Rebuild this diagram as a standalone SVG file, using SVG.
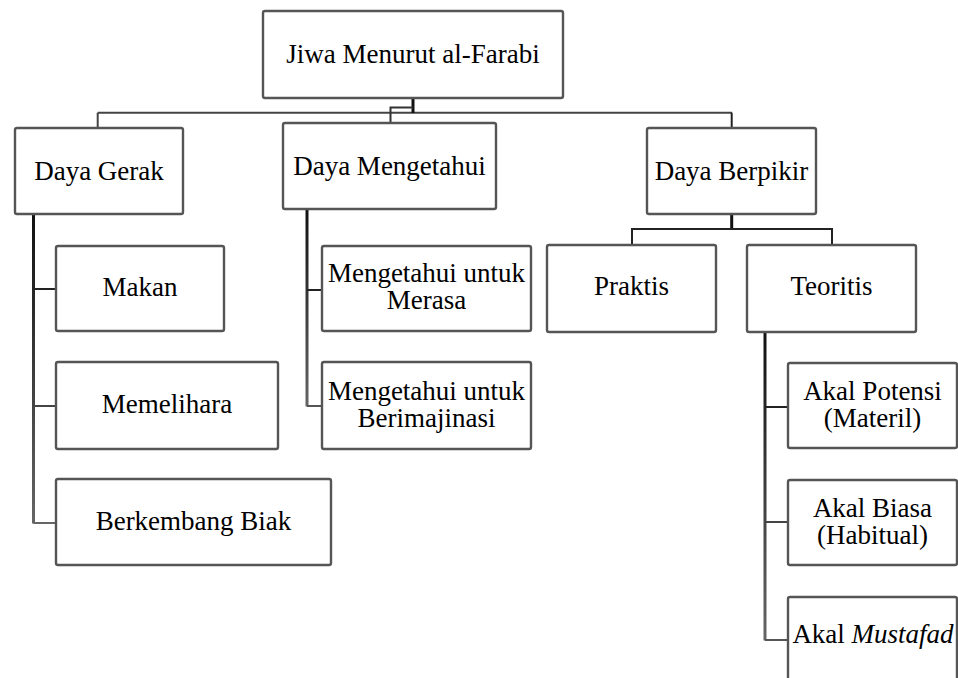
<svg xmlns="http://www.w3.org/2000/svg" width="958" height="678" viewBox="0 0 958 678">
<defs>
<linearGradient id="g1" gradientUnits="userSpaceOnUse" x1="0" y1="214" x2="0" y2="525"><stop offset="0" stop-color="#111"/><stop offset="1" stop-color="#666"/></linearGradient>
<linearGradient id="g2" gradientUnits="userSpaceOnUse" x1="0" y1="209" x2="0" y2="408"><stop offset="0" stop-color="#111"/><stop offset="1" stop-color="#666"/></linearGradient>
<linearGradient id="g3" gradientUnits="userSpaceOnUse" x1="0" y1="332" x2="0" y2="642"><stop offset="0" stop-color="#111"/><stop offset="1" stop-color="#666"/></linearGradient>
</defs>
<g id="connectors" fill="none" stroke-width="2">
<path stroke="#444" d="M97.7 112.7 H732"/>
<path stroke="#111" stroke-width="3" d="M413 98 V113"/>
<path stroke="#333" d="M413 107.5 H390.5 V123"/>
<path stroke="#444" d="M97.7 112.7 V128"/>
<path stroke="#222" d="M731.7 112.7 V128"/>
<path stroke="url(#g1)" stroke-width="3" d="M33.5 214 V523.5"/>
<path stroke="#222" d="M33.5 289 H56"/>
<path stroke="#444" d="M33.5 406 H56"/>
<path stroke="#666" d="M33.5 523 H56"/>
<path stroke="url(#g2)" stroke-width="3" d="M307 209 V406.5"/>
<path stroke="#222" d="M307 290 H322"/>
<path stroke="#555" d="M307 406 H322"/>
<path stroke="#111" stroke-width="3" d="M731.7 214 V229"/>
<path stroke="#222" d="M632 245 V229 H832 V245"/>
<path stroke="url(#g3)" stroke-width="3" d="M765 332 V640.5"/>
<path stroke="#222" d="M765 407 H788"/>
<path stroke="#444" d="M765 522 H788"/>
<path stroke="#555" d="M765 640 H788"/>
</g>
<g id="boxes" fill="#fff" stroke="#555" stroke-width="2.4">
<rect id="root" x="263" y="11" width="300" height="87" rx="2"/>
<rect id="daya-gerak" x="15" y="128" width="168" height="86" rx="2"/>
<rect id="daya-mengetahui" x="283" y="123" width="213" height="86" rx="2"/>
<rect id="daya-berpikir" x="647" y="128" width="169" height="86" rx="2"/>
<rect id="makan" x="56" y="246" width="168" height="85" rx="2"/>
<rect id="memelihara" x="56" y="362" width="222" height="87" rx="2"/>
<rect id="berkembang-biak" x="56" y="479" width="275" height="86" rx="2"/>
<rect id="merasa" x="322" y="246" width="209" height="85" rx="2"/>
<rect id="berimajinasi" x="322" y="362" width="209" height="87" rx="2"/>
<rect id="praktis" x="547" y="245" width="169" height="87" rx="2"/>
<rect id="teoritis" x="747" y="245" width="169" height="87" rx="2"/>
<rect id="akal-potensi" x="788" y="363" width="169" height="85" rx="2"/>
<rect id="akal-biasa" x="788" y="480" width="169" height="85" rx="2"/>
<rect id="akal-mustafad" x="788" y="597" width="169" height="95" rx="2"/>
</g>
<g id="labels">
<text x="413" y="63" font-family="Liberation Serif" font-size="27" text-anchor="middle">Jiwa Menurut al-Farabi</text>
<text x="99" y="180" font-family="Liberation Serif" font-size="27" text-anchor="middle">Daya Gerak</text>
<text x="389.5" y="174.5" font-family="Liberation Serif" font-size="27" text-anchor="middle">Daya Mengetahui</text>
<text x="731.5" y="179.5" font-family="Liberation Serif" font-size="27" text-anchor="middle">Daya Berpikir</text>
<text x="140" y="296" font-family="Liberation Serif" font-size="27" text-anchor="middle">Makan</text>
<text x="167" y="413" font-family="Liberation Serif" font-size="27" text-anchor="middle">Memelihara</text>
<text x="193.5" y="529.5" font-family="Liberation Serif" font-size="27" text-anchor="middle">Berkembang Biak</text>
<text x="426.5" y="282" font-family="Liberation Serif" font-size="27" text-anchor="middle">Mengetahui untuk</text>
<text x="426.5" y="309" font-family="Liberation Serif" font-size="27" text-anchor="middle">Merasa</text>
<text x="426.5" y="399.5" font-family="Liberation Serif" font-size="27" text-anchor="middle">Mengetahui untuk</text>
<text x="426.5" y="426.5" font-family="Liberation Serif" font-size="27" text-anchor="middle">Berimajinasi</text>
<text x="631.5" y="295" font-family="Liberation Serif" font-size="27" text-anchor="middle">Praktis</text>
<text x="831.5" y="295" font-family="Liberation Serif" font-size="27" text-anchor="middle">Teoritis</text>
<text x="872.5" y="400" font-family="Liberation Serif" font-size="27" text-anchor="middle">Akal Potensi</text>
<text x="872.5" y="427" font-family="Liberation Serif" font-size="27" text-anchor="middle">(Materil)</text>
<text x="872.5" y="517" font-family="Liberation Serif" font-size="27" text-anchor="middle">Akal Biasa</text>
<text x="872.5" y="544" font-family="Liberation Serif" font-size="27" text-anchor="middle">(Habitual)</text>
<text x="873" y="643" font-family="Liberation Serif" font-size="27" text-anchor="middle">Akal <tspan font-style="italic">Mustafad</tspan></text>
</g>
</svg>
